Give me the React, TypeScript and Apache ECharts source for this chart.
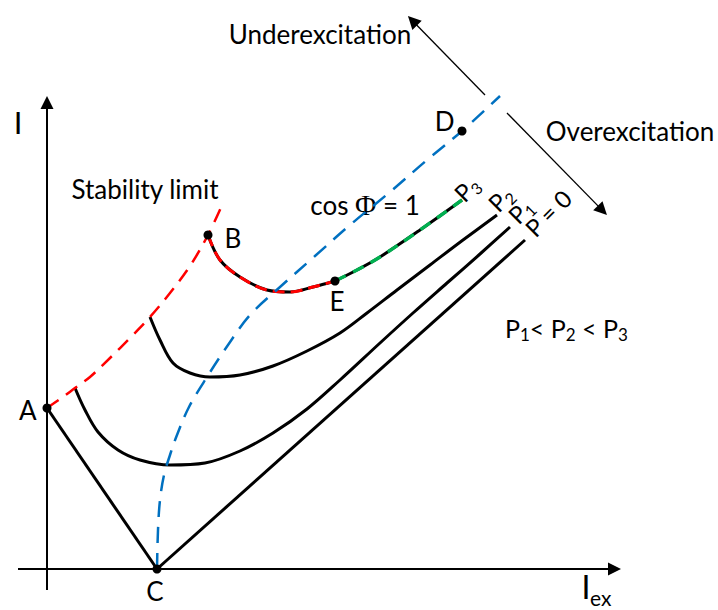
import React, { useEffect, useRef } from "react";
import * as echarts from "echarts";

const FONT = "Lato, 'Open Sans', 'DejaVu Sans', sans-serif";
const RED = "#FF0000";
const BLUE = "#0070C0";
const GREEN = "#00B050";

// Coordinates in (I_ex, I), arbitrary units
const stabilityLimit = [
  [0, 16.1], [1.6, 17.2], [2.8, 18.1], [4.3, 19.2], [6.3, 21.1], [8.3, 23.1],
  [10.3, 25.2], [12.3, 27.6], [14.3, 30.3], [16.1, 33.4], [17.6, 36.6],
];
const lineAC = [[0, 16.1], [11, 0]];
const curveP0 = [[11, 0], [47.8, 32.9]];
const curveP1 = [
  [2.8, 18.1], [3.8, 15.9], [5.1, 13.7], [7.1, 11.9], [9.3, 10.9], [12.3, 10.4],
  [15.8, 10.6], [19.3, 11.8], [22.6, 13.6], [26.0, 16.0], [29.3, 18.9], [33.3, 22.6],
  [36.6, 25.6], [40.0, 28.6], [43.3, 31.5], [46.3, 34.2],
];
const curveP2 = [
  [10.3, 25.2], [11.3, 22.9], [12.6, 20.6], [14.3, 19.6], [16.3, 19.2], [19.3, 19.4],
  [22.6, 20.3], [26.0, 21.8], [29.3, 23.6], [32.0, 25.6], [35.0, 27.9], [38.3, 30.4],
  [41.6, 32.9], [45.0, 35.4],
];
const curveP3Under = [
  [16.1, 33.4], [17.3, 30.9], [19.3, 29.2], [22.0, 27.9], [24.3, 27.7], [26.6, 28.2], [28.8, 28.8],
];
const curveP3Over = [[28.8, 28.8], [31.0, 29.9], [33.3, 31.2], [37.3, 33.9], [41.5, 36.9]];
const unityPowerFactor = [
  [11, 0], [11.1, 3.9], [11.3, 6.9], [11.7, 9.4], [12.3, 11.4], [13.0, 13.4], [14.2, 16.2],
  [16.0, 19.2], [18.1, 22.4], [20.3, 25.4], [23.3, 28.2], [26.8, 31.3], [30.3, 34.4],
  [34.3, 37.7], [38.0, 40.9], [41.5, 43.8], [45.3, 47.3],
];
const pointNames = ["A", "B", "C", "D", "E"];
const pointValues = [[0, 16.1], [16.1, 33.4], [11, 0], [41.5, 43.8], [28.8, 28.8]];
const axisX = [[-2.9, 0], [56.75, 0]];
const axisY = [[0, -2.1], [0, 46.65]];
const underArrow = [[43.8, 47.4], [36.55, 54.83]];
const overArrow = [[46.0, 45.6], [55.54, 35.86]];

const ARROW = "path://M5,0L10,13L0,13Z";

const pointLabel: Record<string, any> = {
  A: { position: "left", distance: 6, offset: [0, 2] },
  B: { position: "right", distance: 12, offset: [0, 3] },
  C: { position: "bottom", distance: 4, offset: [-2, 0] },
  D: { position: "left", distance: 3, offset: [0, -10] },
  E: { position: "bottom", distance: 2, offset: [2, 0] },
};

const line = (data: number[][], color: string, width: number, type: any, z: number, smooth: number | boolean) => ({
  type: "line",
  data,
  symbol: "none",
  showSymbol: false,
  smooth,
  clip: false,
  silent: true,
  z,
  lineStyle: { color, width, type, cap: "butt", join: "round" },
  emphasis: { disabled: true },
});

const rich = (size: number) => ({
  m: { fontSize: size, fontFamily: FONT, lineHeight: size + 1, fill: "#000", color: "#000" },
  s: { fontSize: Math.round(size * 0.68), fontFamily: FONT, lineHeight: Math.round(size * 0.68), padding: [13, 0, 0, 0], fill: "#000", color: "#000" },
  phi: { fontSize: size + 3, fontFamily: "'Liberation Serif', 'DejaVu Serif', serif", lineHeight: size + 1, fill: "#000", color: "#000" },
});

const txt = (x: number, y: number, text: string, size = 26, align = "center", extra: any = {}) => ({
  type: "text",
  x,
  y,
  silent: true,
  ...extra,
  style: {
    text,
    fontSize: size,
    fontFamily: FONT,
    fill: "#000",
    align,
    verticalAlign: "middle",
    textAlign: align,
    textVerticalAlign: "middle",
    rich: rich(size),
  },
});

export default function App() {
  const ref = useRef<HTMLDivElement>(null);
  useEffect(() => {
    if (!ref.current) return;
    const chart = echarts.init(ref.current, undefined, { renderer: "svg" });
    const option: any = {
      animation: false,
      grid: { left: 0, right: 0, top: 0, bottom: 0 },
      xAxis: { type: "value", min: -4.7, max: 67.1, show: false },
      yAxis: { type: "value", min: -4.1, max: 56.9, show: false },
      series: [
        {
          ...line(lineAC, "#000", 3, "solid", 3, false),
          markLine: {
            silent: true,
            symbol: ["none", ARROW],
            symbolSize: 13,
            label: { show: false },
            emphasis: { disabled: true },
            lineStyle: { color: "#000", width: 2, type: "solid" },
            data: [
              [{ coord: axisX[0] }, { coord: axisX[1] }],
              [{ coord: axisY[0] }, { coord: axisY[1] }],
              [{ coord: underArrow[0], lineStyle: { width: 1.3, color: "#000", type: "solid" } }, { coord: underArrow[1] }],
              [{ coord: overArrow[0], lineStyle: { width: 1.3, color: "#000", type: "solid" } }, { coord: overArrow[1] }],
            ],
          },
        },
        line(curveP0, "#000", 3, "solid", 3, false),
        line(curveP1, "#000", 3, "solid", 3, 0.35),
        line(curveP2, "#000", 3, "solid", 3, 0.35),
        line(curveP3Under, "#000", 3, "solid", 3, 0.35),
        line(curveP3Over, "#000", 3, "solid", 3, 0.35),
        line(curveP3Under, RED, 3, [12, 6], 4, 0.35),
        line(curveP3Over, GREEN, 3.4, [12, 8], 4, 0.35),
        line(stabilityLimit, RED, 2.5, [14, 9], 4, 0.35),
        line(unityPowerFactor, BLUE, 2.5, [16, 10], 5, 0.35),
        {
          type: "scatter",
          z: 6,
          silent: true,
          symbol: "circle",
          symbolSize: 9,
          itemStyle: { color: "#000", opacity: 1 },
          emphasis: { disabled: true },
          data: pointNames.map((n, i) => ({
            name: n,
            value: pointValues[i],
            label: {
              show: true,
              formatter: n,
              fontSize: 26,
              fontFamily: FONT,
              color: "#000",
              textBorderWidth: 0,
              ...pointLabel[n],
            },
          })),
        },
      ],
      graphic: [
        txt(320, 34, "Underexcitation"),
        txt(630, 131, "Overexcitation"),
        txt(145, 189, "Stability limit"),
        txt(365, 205, "cos {phi|Φ} = 1"),
        txt(18, 122, "I", 31),
        txt(586, 586, "I", 32),
        txt(590, 597, "ex", 21, "left"),
        txt(505, 328, "{m|P}{s|1}{m|< P}{s|2}{m| < P}{s|3}", 25, "left"),
        txt(458, 197, "{m|P}{s|3}", 24, "left", { rotation: Math.PI / 4 }),
        txt(492, 207, "{m|P}{s|2}", 24, "left", { rotation: Math.PI / 4 }),
        txt(512, 219, "{m|P}{s|1}", 24, "left", { rotation: Math.PI / 4 }),
        txt(529, 232, "P = 0", 24, "left", { rotation: Math.PI / 4 }),
      ],
    };
    chart.setOption(option);
    return () => chart.dispose();
  }, []);
  return (
    <div
      ref={ref}
      style={{ position: "fixed", left: 0, top: 0, width: 718, height: 610, background: "#fff" }}
    />
  );
}
